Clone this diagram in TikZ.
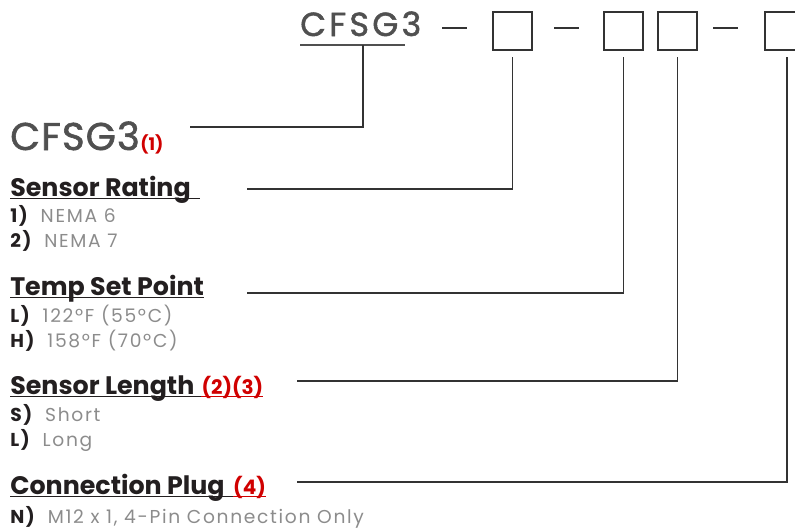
\documentclass[tikz,border=0pt]{standalone}
\usepackage{fontspec}
\setmainfont{Poppins}
\usetikzlibrary{positioning}
\definecolor{titlegray}{HTML}{505050}
\definecolor{headdark}{HTML}{231F20}
\definecolor{itemgray}{HTML}{8C8C8C}
\definecolor{refred}{HTML}{D00000}
\definecolor{linedark}{HTML}{333333}
\newcommand{\tbf}[1]{\textbf{#1}}
\newcommand{\opt}[2]{\tbf{#1}\hspace{0.6em}\textcolor{itemgray}{#2}}
\tikzset{
	codebox/.style={draw=linedark, line width=0.9pt, minimum width=29.25pt, minimum height=28.5pt, inner sep=0pt},
	dashbar/.style={fill=linedark, minimum width=19pt, minimum height=1.9pt, inner sep=0pt},
	head/.style={anchor=base west, inner sep=0pt, text=headdark, font=\fontsize{19}{19}\selectfont\bfseries},
	headref/.style={inner sep=0pt, text=refred, font=\fontsize{15}{15}\selectfont\bfseries},
	item/.style={anchor=base west, inner sep=0pt, text=headdark, font=\fontsize{14}{14}\selectfont\addfontfeature{LetterSpace=9}},
	leader/.style={draw=linedark, line width=0.8pt},
	uline/.style={draw=headdark, line width=0.8pt},
}
\begin{document}
\begin{tikzpicture}[x=0.75pt, y=-0.75pt]
	\useasboundingbox (0,0) rectangle (795,529);

	% part number
	\node[anchor=base west, inner sep=0pt, text=titlegray, font=\fontsize{25}{25}\selectfont\addfontfeature{LetterSpace=10, FakeBold=1.5}] (code) at (300,36) {CFSG3};
	\draw[draw=titlegray, line width=0.8pt] ([yshift=-6.75pt]code.base west) -- ++(105,0);
	\node[dashbar] (dash1) at (454.5,28) {};
	\node[codebox] (b1) at (512.5,31) {};
	\node[dashbar] (dash2) at (566.5,28) {};
	\node[codebox] (b2) at (623.5,31) {};
	\node[codebox] (b3) at (677.5,31) {};
	\node[dashbar] (dash3) at (725.5,28) {};
	\node[codebox, minimum width=33pt] (b4) at (787,31) {};

	% model
	\node[anchor=base west, inner sep=0pt, text=titlegray, font=\fontsize{29}{29}\selectfont\addfontfeature{LetterSpace=3, FakeBold=1.5}] (model) at (10,150) {CFSG3};
	\node[headref, font=\fontsize{13}{13}\selectfont\bfseries, base right=0pt of model] (ref1) {(1)};

	% sensor rating
	\node[head] (rating) at (10,196) {Sensor Rating\kern7pt};
	\draw[uline] ([yshift=-2pt]rating.base west) -- ([yshift=-2pt]rating.base east);
	\node[item] (nema6) at (10,222) {\opt{1)}{NEMA 6}};
	\node[item] (nema7) at (10,247) {\opt{2)}{NEMA 7}};

	% temp set point
	\node[head] (temp) at (10,295) {Temp Set Point};
	\draw[uline] ([yshift=-2pt]temp.base west) -- ([yshift=-2pt]temp.base east);
	\node[item] (templow) at (10,322) {\opt{L)}{122ºF (55ºC)}};
	\node[item] (temphigh) at (10,347) {\opt{H)}{158ºF (70ºC)}};

	% sensor length
	\node[head] (length) at (10,394) {Sensor Length};
	\node[headref, base right=5pt of length] (ref23) {(2)(3)};
	\draw[uline] ([yshift=-2pt]length.base west) -- ([yshift=-2pt]ref23.base west);
	\draw[uline, draw=refred] ([yshift=-2pt]ref23.base west) -- ([yshift=-2pt]ref23.base east);
	\node[item] (short) at (10,421) {\opt{S)}{Short}};
	\node[item] (long) at (10,446) {\opt{L)}{Long}};

	% connection plug
	\node[head] (plug) at (10,494) {Connection Plug};
	\node[headref, base right=6pt of plug] (ref4) {(4)};
	\draw[uline] ([yshift=-2pt]plug.base west) -- ([yshift=-2pt]ref4.base west);
	\draw[uline, draw=refred] ([yshift=-2pt]ref4.base west) -- ([yshift=-2pt]ref4.base east);
	\node[item] (m12) at (10,523) {\opt{N)}{M12 x 1, 4-Pin Connection Only}};

	% leaders
	\coordinate (top0) at (363,45);
	\coordinate (end0) at (190,127);
	\coordinate (end1) at (247,189);
	\coordinate (end2) at (247,293);
	\coordinate (end3) at (297,381);
	\coordinate (end4) at (297,482);
	\draw[leader] (top0) |- (end0);
	\draw[leader] ([yshift=-5pt]b1.south) |- (end1);
	\draw[leader] ([yshift=-5pt]b2.south) |- (end2);
	\draw[leader] ([yshift=-5pt]b3.south) |- (end3);
	\draw[leader] ([yshift=-5pt]b4.south) |- (end4);
\end{tikzpicture}
\end{document}
